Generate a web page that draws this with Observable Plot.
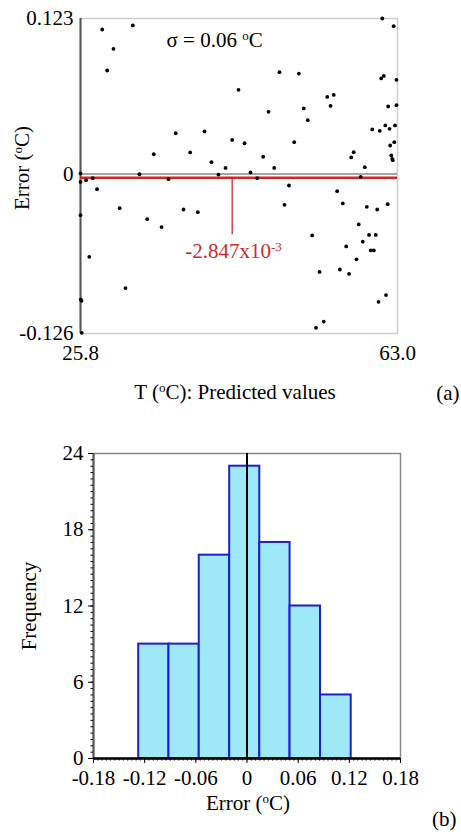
<!DOCTYPE html>
<html>
<head>
<meta charset="utf-8">
<script src="https://cdn.jsdelivr.net/npm/d3@7"></script>
<script src="https://cdn.jsdelivr.net/npm/@observablehq/plot@0.6"></script>
<style>
  html, body { margin: 0; padding: 0; background: white; }
  #chart { width: 461px; height: 837px; overflow: hidden; }
  #chart svg { display: block; }
</style>
</head>
<body>
<div id="chart"></div>
<script>
// ---------- Panel (a): prediction error vs predicted temperature ----------
const temps = [
  28.35, 31.94, 29.67, 28.93, 36.98, 40.35, 34.40, 38.67, 41.17, 42.82,
  43.60, 32.72, 25.80, 25.80, 26.45, 27.24, 27.74, 36.13, 41.99, 30.40,
  25.80, 33.63, 37.89, 39.57, 35.31, 26.83, 31.08, 25.84, 25.92, 25.95,
  61.22, 62.55, 49.15, 51.42, 44.34, 61.09, 61.39, 62.88, 47.86, 54.75,
  55.52, 55.14, 52.00, 52.47, 61.91, 62.88, 45.05, 50.88, 60.04, 60.92,
  61.57, 62.06, 62.71, 62.14, 62.62, 57.86, 57.57, 62.27, 62.38, 62.45,
  47.24, 48.53, 59.16, 45.75, 46.54, 58.68, 50.27, 55.92, 49.74, 56.58,
  59.40, 60.62, 61.85, 58.45, 52.99, 59.66, 60.45, 58.92, 56.98, 59.87,
  60.22, 58.19, 53.85, 56.23, 57.31, 61.65, 60.77, 54.34, 53.44
];
const errors = [
  0.1143, 0.1175, 0.0990, 0.0819, 0.0323, 0.0337, 0.0157, 0.0171, 0.0094, 0.0049,
  0.0270, -0.0001, 0.0005, -0.0062, -0.0048, -0.0032, -0.0119, -0.0040, -0.0004, -0.0269,
  -0.0325, -0.0356, -0.0280, -0.0301, -0.0419, -0.0654, -0.0901, -0.0991, -0.1002, -0.1255,
  0.1230, 0.1169, 0.0806, 0.0795, 0.0666, 0.0756, 0.0776, 0.0745, 0.0492, 0.0610,
  0.0626, 0.0539, 0.0519, 0.0426, 0.0535, 0.0545, 0.0244, 0.0252, 0.0353, 0.0342,
  0.0385, 0.0358, 0.0385, 0.0226, 0.0252, 0.0173, 0.0132, 0.0147, 0.0121, 0.0110,
  0.0137, 0.0049, 0.0055, 0.0013, -0.0032, -0.0022, -0.0090, -0.0135, -0.0243, -0.0232,
  -0.0259, -0.0280, -0.0238, -0.0398, -0.0485, -0.0481, -0.0481, -0.0534, -0.0572, -0.0603,
  -0.0603, -0.0674, -0.0773, -0.0754, -0.0789, -0.0956, -0.1010, -0.1166, -0.1215
];
const meanError = -0.002847;
const meanLabel = "-2.847x10#-3#";
const sigmaLabel = "σ = 0.06 #o#C";
const annotT = 43.6;       // where the callout line leaves the mean line
const annotEnd = -0.048;   // bottom of the callout line
const xDomainA = [25.8, 63.0];
const yDomainA = [-0.126, 0.123];
const xTicksA = [25.8, 63.0];
const xTickLabelsA = ["25.8", "63.0"];
const yTicksA = [-0.126, 0, 0.123];
const yTickLabelsA = ["-0.126", "0", "0.123"];

// ---------- Panel (b): histogram of errors ----------
const binEdges = [-0.127, -0.0915, -0.056, -0.0203, 0.015, 0.0505, 0.0862, 0.1222];
const counts = [9, 9, 16, 23, 17, 12, 5];
const xDomainB = [-0.18, 0.18];
const yDomainB = [0, 24];
const xTicksB = [-0.18, -0.12, -0.06, 0, 0.06, 0.12, 0.18];
const xTickLabelsB = ["-0.18", "-0.12", "-0.06", "0", "0.06", "0.12", "0.18"];
const yTicksB = [0, 6, 12, 18, 24];
const yTickLabelsB = ["0", "6", "12", "18", "24"];

// ---------- helpers ----------
const FONT = "Liberation Serif";
const RED_LINE = "#d42626";
const RED_TEXT = "#cc2b2b";
const lookup = (ticks, labels) => { const m = new Map(ticks.map((t, i) => [t, labels[i]])); return d => m.get(d) ?? ""; };
// turn "abc#sup#def" into tspans with a superscript part
function supify(svg) {
  d3.select(svg).selectAll("text").each(function () {
    const s = this.textContent;
    if (!s.includes("#")) return;
    const parts = s.split("#");
    const t = d3.select(this);
    t.text(null);
    parts.forEach((p, i) => {
      if (!p) return;
      const sp = t.append("tspan").text(p);
      if (i % 2) sp.attr("baseline-shift", "super").attr("font-size", "0.62em");
    });
  });
}

const points = temps.map((t, i) => ({t, e: errors[i]}));
const annot = [{t: annotT, y1: meanError, y2: annotEnd}];

const plotA = Plot.plot({
  width: 461, height: 420,
  marginLeft: 80, marginRight: 64, marginTop: 18, marginBottom: 87,
  style: {fontFamily: FONT, fontSize: "21px", background: "white", color: "black"},
  x: {domain: xDomainA},
  y: {domain: yDomainA},
  marks: [
    Plot.frame({stroke: "#cfcfcf", strokeWidth: 1.5}),
    Plot.ruleX([xDomainA[0]], {stroke: "#555", strokeWidth: 2}),
    Plot.ruleY([0], {stroke: "#888", strokeWidth: 1.5}),
    Plot.ruleY([meanError], {stroke: RED_LINE, strokeWidth: 2.5}),
    Plot.ruleX(annot, {x: "t", y1: "y1", y2: "y2", stroke: RED_LINE, strokeWidth: 1.3}),
    Plot.dot(points, {x: "t", y: "e", r: 1.9, fill: "black", stroke: "none"}),
    Plot.axisY({ticks: yTicksA, tickSize: 0, tickPadding: 7, tickFormat: lookup(yTicksA, yTickLabelsA), label: null}),
    Plot.axisX({ticks: xTicksA, tickSize: 0, tickPadding: 12, tickFormat: lookup(xTicksA, xTickLabelsA), label: null}),
    Plot.text(annot, {x: "t", y: "y2", text: () => meanLabel, textAnchor: "start", dx: -47, dy: 16, fill: RED_TEXT}),
    Plot.text([sigmaLabel], {frameAnchor: "top-left", textAnchor: "start", dx: 86, dy: 14}),
    Plot.text(["Error (#o#C)"], {frameAnchor: "left", textAnchor: "middle", rotate: -90, dx: -58, dy: -8}),
    Plot.text(["T (#o#C): Predicted values"], {frameAnchor: "bottom", textAnchor: "middle", dx: -4, dy: 65}),
    Plot.text(["(a)"], {frameAnchor: "bottom-right", textAnchor: "end", dx: 62, dy: 66})
  ]
});
supify(plotA);

const bins = counts.map((c, i) => ({x1: binEdges[i], x2: binEdges[i + 1], n: c}));

const plotB = Plot.plot({
  width: 461, height: 417,
  marginLeft: 93, marginRight: 61, marginTop: 33, marginBottom: 79,
  style: {fontFamily: FONT, fontSize: "21px", background: "white", color: "black"},
  x: {domain: xDomainB},
  y: {domain: yDomainB},
  marks: [
    Plot.frame({stroke: "#888", strokeWidth: 1.5}),
    Plot.rectY(bins, {x1: "x1", x2: "x2", y: "n", fill: "#9de9f7", stroke: "#1f1fcf", strokeWidth: 2}),
    Plot.ruleX([0], {stroke: "black", strokeWidth: 2}),
    Plot.ruleX([xDomainB[0]], {stroke: "#555", strokeWidth: 2}),
    Plot.ruleY([yDomainB[0]], {stroke: "black", strokeWidth: 2.5}),
    Plot.axisY({ticks: d3.range(0, 24.01, 0.5), tickSize: 2.5, tickFormat: () => "", label: null}),
    Plot.axisX({ticks: d3.range(-0.18, 0.1801, 0.005), tickSize: 2.5, tickFormat: () => "", label: null}),
    Plot.axisY({ticks: yTicksB, tickSize: 5, tickPadding: 5, tickFormat: lookup(yTicksB, yTickLabelsB), label: null}),
    Plot.axisX({ticks: xTicksB, tickSize: 5, tickPadding: 7, tickFormat: lookup(xTicksB, xTickLabelsB), label: null}),
    Plot.text(["Frequency"], {frameAnchor: "left", textAnchor: "middle", rotate: -90, dx: -64}),
    Plot.text(["Error (#o#C)"], {frameAnchor: "bottom", textAnchor: "middle", dx: 1, dy: 51}),
    Plot.text(["(b)"], {frameAnchor: "bottom-right", textAnchor: "end", dx: 56, dy: 67})
  ]
});
supify(plotB);

document.getElementById("chart").append(plotA, plotB);
</script>
</body>
</html>
